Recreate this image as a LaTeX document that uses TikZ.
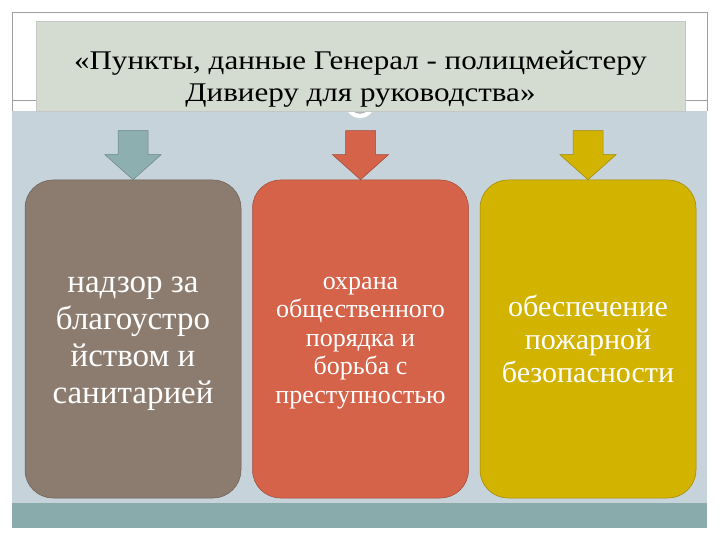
\documentclass[tikz,border=0pt]{standalone}
\usepackage{fontspec}
\setmainfont{Liberation Serif}
\newfontfamily\titlefont{Liberation Serif}[FakeStretch=1.15]
\usepackage{xcolor}
\usetikzlibrary{positioning}

\definecolor{panelblue}{HTML}{C7D3DA}
\definecolor{titlegray}{HTML}{D4DBD1}
\definecolor{tealband}{HTML}{8AABAB}
\definecolor{cardbrown}{HTML}{8C7C70}
\definecolor{cardred}{HTML}{D4634A}
\definecolor{cardyellow}{HTML}{D2B300}
\definecolor{arrteal}{HTML}{8EAFAF}

% block arrow pointing down onto a card
\newcommand{\blockarrow}[2]{%
  \draw[blockarr=#2] (#1.north) -- ++(-28,-25) -- ++(13,0) -- ++(0,-24)
    -- ++(30,0) -- ++(0,24) -- ++(13,0) -- cycle;}

\begin{document}
\begin{tikzpicture}[
    x=1pt, y=-1pt,
    node distance=11pt,
    card/.style={draw=#1!75!black, fill=#1, rounded corners=28pt, minimum width=216pt, minimum height=318pt, line width=0.5pt},
    cardtxt/.style={text=white, align=center},
    blockarr/.style={draw=#1!75!black, fill=#1, line width=0.5pt},
    frame/.style={draw=gray!75, line width=0.6pt},
    titlebox/.style={draw=gray!45, fill=titlegray, minimum width=649pt, minimum height=90pt},
    titletxt/.style={align=center, font=\titlefont\fontsize{27}{32}\selectfont}]
  \useasboundingbox (0,0) rectangle (720,540);
  \fill[white] (0,0) rectangle (720,540);
  % outer frame
  \draw[frame] (12,111) -- (12,12) -- (707,12) -- (707,111);
  \draw[frame] (12,100) -- (707,100);
  % panel and bottom band
  \fill[panelblue] (12,111) rectangle (707,503);
  \fill[tealband] (12,503) rectangle (707,528);
  % ring under the title
  \fill[white] (360,103) circle (15pt);
  \draw[gray!60, line width=1.5pt] (360,103) circle (10pt);
  % title
  \node[titlebox] (title) at (360.5,66) {};
  \node[titletxt] (titletext) at (360.5,79) {«Пункты, данные Генерал - полицмейстеру\\Дивиеру для руководства»};
  % cards
  \node[card=cardbrown] (care) at (133,339) {};
  \node[card=cardred, right=of care] (order) {};
  \node[card=cardyellow, right=of order] (fire) {};
  \blockarrow{care}{arrteal}
  \blockarrow{order}{cardred}
  \blockarrow{fire}{cardyellow}
  \node[cardtxt, font=\fontsize{33}{37}\selectfont, yshift=-5pt] (caretext) at (care)
    {надзор за\\благоустро\\йством и\\санитарией};
  \node[cardtxt, font=\fontsize{26}{28.5}\selectfont, yshift=-4pt] (ordertext) at (order)
    {охрана\\общественного\\порядка и\\борьба с\\преступностью};
  \node[cardtxt, font=\fontsize{30}{33}\selectfont] (firetext) at (fire)
    {обеспечение\\пожарной\\безопасности};
\end{tikzpicture}
\end{document}
